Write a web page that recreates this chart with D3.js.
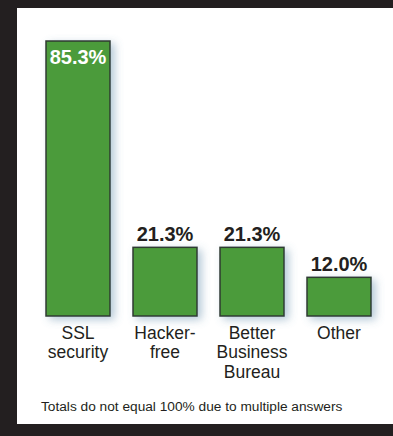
<!DOCTYPE html>
<html>
<head>
<meta charset="utf-8">
<script src="https://cdn.jsdelivr.net/npm/d3@7"></script>
<style>
  html, body { margin: 0; padding: 0; background: #231f20; }
  svg { display: block; }
</style>
</head>
<body>
<svg id="chart" width="393" height="436"></svg>
<script>
// Survey answers (multiple answers allowed)
const categories = ["SSL security", "Hacker-free", "Better Business Bureau", "Other"];
const categoryLines = [["SSL", "security"], ["Hacker-", "free"], ["Better", "Business", "Bureau"], ["Other"]];
const values = [85.3, 21.3, 21.3, 12.0];
const valueLabels = ["85.3%", "21.3%", "21.3%", "12.0%"];
const footnote = "Totals do not equal 100% due to multiple answers";

const svg = d3.select("#chart");
const W = 393, H = 436;

// dark frame with white panel
svg.append("rect").attr("width", W).attr("height", H).attr("fill", "#231f20");
svg.append("rect").attr("x", 17).attr("y", 8).attr("width", W - 17).attr("height", 416).attr("fill", "#ffffff");

// soft blue-grey shadow behind the bars
const defs = svg.append("defs");
const f = defs.append("filter").attr("id", "shadow")
  .attr("x", "-30%").attr("y", "-30%").attr("width", "170%").attr("height", "170%");
f.append("feDropShadow")
  .attr("dx", 4).attr("dy", 3).attr("stdDeviation", 4)
  .attr("flood-color", "#5b87a6").attr("flood-opacity", 0.45);

const x = d3.scaleBand().domain(categories).range([46, 371]).paddingInner(23 / 87).paddingOuter(0);
const y = d3.scaleLinear().domain([0, 85.3]).range([316, 41]);

const data = categories.map((c, i) => ({ c, v: values[i], label: valueLabels[i], lines: categoryLines[i] }));

const g = svg.append("g");

g.selectAll("rect.bar").data(data).join("rect")
  .attr("class", "bar")
  .attr("x", d => x(d.c))
  .attr("y", d => y(d.v))
  .attr("width", x.bandwidth())
  .attr("height", d => y(0) - y(d.v))
  .attr("fill", "#4c9b3a")
  .attr("stroke", "#2f3a30")
  .attr("stroke-width", 1.5)
  .attr("filter", "url(#shadow)");

// value labels: inside the tallest bar, above the others
const font = "Liberation Sans, Arial, Helvetica, sans-serif";
g.selectAll("text.val").data(data).join("text")
  .attr("class", "val")
  .attr("x", d => x(d.c) + x.bandwidth() / 2)
  .attr("y", (d, i) => i === 0 ? y(d.v) + 23 : y(d.v) - 6)
  .attr("text-anchor", "middle")
  .attr("font-family", font)
  .attr("font-weight", "bold")
  .attr("font-size", 20)
  .attr("fill", (d, i) => i === 0 ? "#ffffff" : "#231f20")
  .text(d => d.label);

// category labels, one tspan per line
const cat = g.selectAll("text.cat").data(data).join("text")
  .attr("class", "cat")
  .attr("text-anchor", "middle")
  .attr("font-family", font)
  .attr("font-size", 17.5)
  .attr("fill", "#231f20");
cat.selectAll("tspan").data(d => d.lines.map(l => ({ l, cx: x(d.c) + x.bandwidth() / 2 }))).join("tspan")
  .attr("x", d => d.cx)
  .attr("y", (d, i) => 338.5 + i * 19.5)
  .text(d => d.l);

svg.append("text")
  .attr("x", 41).attr("y", 411)
  .attr("font-family", font)
  .attr("font-size", 13.7)
  .attr("fill", "#231f20")
  .text(footnote);
</script>
</body>
</html>
